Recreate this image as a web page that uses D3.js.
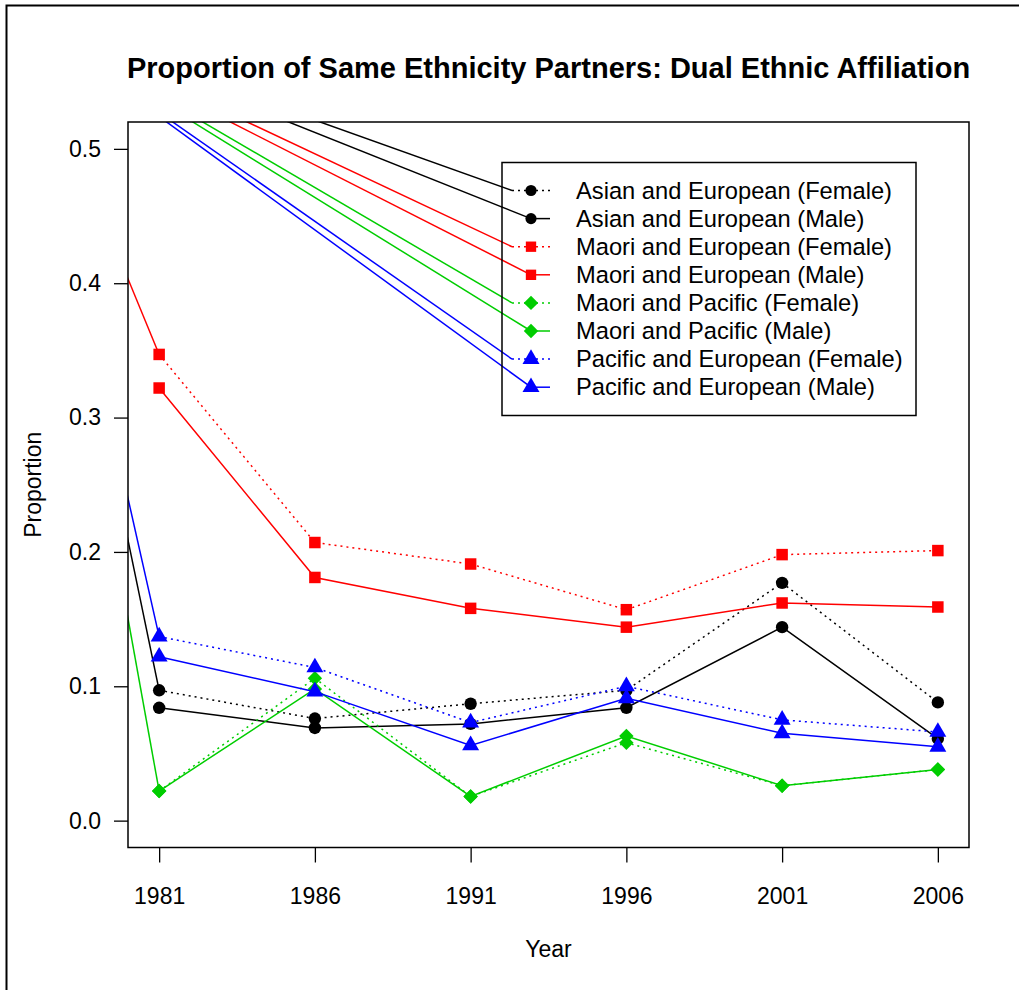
<!DOCTYPE html>
<html>
<head>
<meta charset="utf-8">
<script src="https://cdn.jsdelivr.net/npm/d3@7"></script>
<style>
  html, body { margin: 0; padding: 0; background: #fff; }
  svg { display: block; font-family: "Liberation Sans", Arial, Helvetica, sans-serif; }
</style>
</head>
<body>
<svg id="chart" width="1019" height="990"></svg>
<script>
// Census years
const years = [1981, 1986, 1991, 1996, 2001, 2006];

// Proportion of partners sharing the same ethnicity, by dual affiliation and sex
const asianEuropeanFemale   = [0.097, 0.076, 0.087, 0.097, 0.177, 0.088];
const asianEuropeanMale     = [0.084, 0.069, 0.072, 0.084, 0.144, 0.061];
const maoriEuropeanFemale   = [0.347, 0.207, 0.191, 0.157, 0.198, 0.201];
const maoriEuropeanMale     = [0.322, 0.181, 0.158, 0.144, 0.162, 0.159];
const maoriPacificFemale    = [0.022, 0.106, 0.018, 0.058, 0.026, 0.038];
const maoriPacificMale      = [0.022, 0.098, 0.018, 0.063, 0.026, 0.038];
const pacificEuropeanFemale = [0.137, 0.114, 0.073, 0.100, 0.075, 0.066];
const pacificEuropeanMale   = [0.122, 0.096, 0.056, 0.091, 0.065, 0.055];

const seriesLabels = [
  "Asian and European (Female)",
  "Asian and European (Male)",
  "Maori and European (Female)",
  "Maori and European (Male)",
  "Maori and Pacific (Female)",
  "Maori and Pacific (Male)",
  "Pacific and European (Female)",
  "Pacific and European (Male)"
];

// Leader point that the guide lines fan out from (year, proportion)
const leaderYear = 1976.5;
const leaderValue = 0.6;

const yTicks = [0.0, 0.1, 0.2, 0.3, 0.4, 0.5];
const xLimits = [1980, 2007];
const yLimits = [-0.02, 0.52];

const titleText = "Proportion of Same Ethnicity Partners: Dual Ethnic Affiliation";
const xTitle = "Year";
const yTitle = "Proportion";

// ---- styling of each series ----
const colours = ["#000000", "#000000", "#ff0000", "#ff0000", "#00cd00", "#00cd00", "#0000ff", "#0000ff"];
const shapes  = ["circle", "circle", "square", "square", "diamond", "diamond", "triangle", "triangle"];
const dashed  = [true, false, true, false, true, false, true, false];
const values  = [asianEuropeanFemale, asianEuropeanMale, maoriEuropeanFemale, maoriEuropeanMale,
                 maoriPacificFemale, maoriPacificMale, pacificEuropeanFemale, pacificEuropeanMale];

const series = seriesLabels.map((label, i) => ({
  label, colour: colours[i], shape: shapes[i], dotted: dashed[i],
  points: years.map((yr, j) => ({ year: yr, value: values[i][j] }))
}));

const svg = d3.select("#chart");
const plot = { left: 128, right: 969, top: 122, bottom: 847.5 };

const x = d3.scaleLinear().domain(xLimits).range([plot.left, plot.right]);
const y = d3.scaleLinear().domain(yLimits).range([plot.bottom, plot.top]);

const bodyFont = 23;

// outer device frame
svg.append("rect")
  .attr("x", 6.5).attr("y", 5.5).attr("width", 1100).attr("height", 1100)
  .attr("fill", "none").attr("stroke", "#000").attr("stroke-width", 2);

svg.append("defs").append("clipPath").attr("id", "plotClip")
  .append("rect")
  .attr("x", plot.left).attr("y", plot.top)
  .attr("width", plot.right - plot.left).attr("height", plot.bottom - plot.top);

// marker symbols
const symbolFor = {
  circle: d3.symbol().type(d3.symbolCircle).size(Math.PI * 6.2 * 6.2),
  square: d3.symbol().type(d3.symbolSquare).size(11.5 * 11.5),
  diamond: d3.symbol().type(d3.symbolSquare).size(10.2 * 10.2),
};
function drawMarker(g, shape, cx, cy, colour) {
  if (shape === "triangle") {
    const s = 6.3;
    const pts = [[cx, cy - 1.555 * s], [cx + 1.347 * s, cy + 0.778 * s], [cx - 1.347 * s, cy + 0.778 * s]];
    g.append("path").attr("d", "M" + pts.map(p => p.join(",")).join("L") + "Z").attr("fill", colour);
  } else if (shape === "diamond") {
    g.append("path").attr("d", symbolFor.diamond())
      .attr("transform", `translate(${cx},${cy}) rotate(45)`).attr("fill", colour);
  } else {
    g.append("path").attr("d", symbolFor[shape]())
      .attr("transform", `translate(${cx},${cy})`).attr("fill", colour);
  }
}

const dotPattern = "2,4";
const lineW = 1.5;

const clipped = svg.append("g").attr("clip-path", "url(#plotClip)");

// guide lines from the leader point to each first (female) observation
const line = d3.line().x(d => x(d.year)).y(d => y(d.value));
series.filter((s, i) => i % 2 === 0).forEach(s => {
  clipped.append("path")
    .datum([{ year: leaderYear, value: leaderValue }, s.points[0]])
    .attr("d", line)
    .attr("fill", "none").attr("stroke", s.colour).attr("stroke-width", lineW);
});

// series lines and markers
series.forEach(s => {
  const g = clipped.append("g");
  g.append("path").datum(s.points).attr("d", line)
    .attr("fill", "none").attr("stroke", s.colour).attr("stroke-width", lineW)
    .attr("stroke-dasharray", s.dotted ? dotPattern : null);
  s.points.forEach(p => drawMarker(g, s.shape, x(p.year), y(p.value), s.colour));
});

// plot box
svg.append("rect")
  .attr("x", plot.left).attr("y", plot.top)
  .attr("width", plot.right - plot.left).attr("height", plot.bottom - plot.top)
  .attr("fill", "none").attr("stroke", "#000").attr("stroke-width", 1.5);

// axes
const yAxis = svg.append("g")
  .attr("transform", `translate(${plot.left},0)`)
  .call(d3.axisLeft(y).tickValues(yTicks).tickFormat(d3.format(".1f")).tickSize(14).tickPadding(13));
const xAxis = svg.append("g")
  .attr("transform", `translate(0,${plot.bottom})`)
  .call(d3.axisBottom(x).tickValues(years).tickFormat(d3.format("d")).tickSize(15));
[yAxis, xAxis].forEach(a => {
  a.select(".domain").remove();
  a.selectAll(".tick line").attr("stroke", "#000").attr("stroke-width", 1.3);
  a.selectAll("text").attr("font-size", bodyFont).attr("fill", "#000")
    .attr("font-family", "'Liberation Sans', Arial, sans-serif");
});
xAxis.selectAll("text").attr("y", 48).attr("dy", "0.35em");

// titles
svg.append("text").attr("x", (plot.left + plot.right) / 2).attr("y", 68)
  .attr("text-anchor", "middle").attr("dominant-baseline", "central")
  .attr("font-size", 29).attr("font-weight", "bold").text(titleText);
svg.append("text").attr("x", (plot.left + plot.right) / 2).attr("y", 949)
  .attr("text-anchor", "middle").attr("dominant-baseline", "central")
  .attr("font-size", bodyFont).text(xTitle);
svg.append("text").attr("transform", `translate(33,${(plot.top + plot.bottom) / 2}) rotate(-90)`)
  .attr("text-anchor", "middle").attr("dominant-baseline", "central")
  .attr("font-size", bodyFont).text(yTitle);

// legend
const legend = { left: 502, top: 162.5, right: 916, bottom: 415.5, firstRow: 190.5, rowGap: 28.1,
                 keyStart: 512, keyMid: 531, keyEnd: 550, textX: 576 };
svg.append("rect")
  .attr("x", legend.left).attr("y", legend.top)
  .attr("width", legend.right - legend.left).attr("height", legend.bottom - legend.top)
  .attr("fill", "none").attr("stroke", "#000").attr("stroke-width", 1.5);

const leaderPx = [x(leaderYear), y(leaderValue)];
series.forEach((s, i) => {
  const ry = legend.firstRow + i * legend.rowGap;
  const endX = s.dotted ? legend.keyStart : legend.keyMid;
  clipped.append("line")
    .attr("x1", leaderPx[0]).attr("y1", leaderPx[1]).attr("x2", endX).attr("y2", ry)
    .attr("stroke", s.colour).attr("stroke-width", lineW);
  const g = svg.append("g");
  g.append("line")
    .attr("x1", s.dotted ? legend.keyStart : legend.keyMid).attr("x2", legend.keyEnd)
    .attr("y1", ry).attr("y2", ry)
    .attr("stroke", s.colour).attr("stroke-width", lineW)
    .attr("stroke-dasharray", s.dotted ? dotPattern : null);
  const size = s.shape === "circle" || s.shape === "square" ? 0.9 : 1.0;
  const mg = g.append("g").attr("transform", `translate(${legend.keyMid},${ry}) scale(${size}) translate(${-legend.keyMid},${-ry})`);
  drawMarker(mg, s.shape, legend.keyMid, ry, s.colour);
  g.append("text").attr("x", legend.textX).attr("y", ry)
    .attr("dominant-baseline", "central").attr("font-size", 23.7).text(s.label);
});
</script>
</body>
</html>
